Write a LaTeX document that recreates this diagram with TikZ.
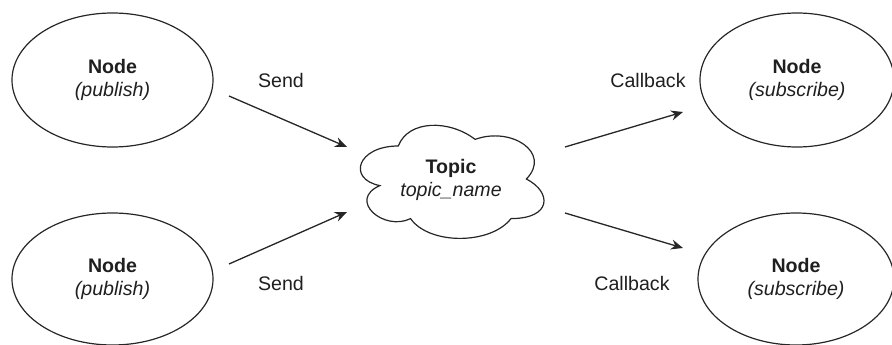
\documentclass[tikz,border=0pt]{standalone}
\usepackage{fontspec}
\setmainfont{Liberation Sans}
\usetikzlibrary{shapes.geometric,arrows.meta}

\tikzset{
  label text/.style={font=\fontsize{19.6}{23.5}\selectfont, text=black!88, align=center, inner sep=0pt},
  rosnode/.style={ellipse, draw=black!85, line width=1.2pt, inner sep=0pt, label text},
  flow/.style={draw=black!85, line width=1.3pt, -{Stealth[length=12pt, width=10pt]}},
}

\begin{document}
\begin{tikzpicture}[x=1pt, y=-1pt]
  \useasboundingbox (0,0) rectangle (892,345);

  % publishers and subscribers
  \node[rosnode, minimum width=201pt, minimum height=134pt] (pub1) at (112.5,80)
    {\textbf{Node}\\\textit{(publish)}};
  \node[rosnode, minimum width=201pt, minimum height=132pt] (pub2) at (112.5,279)
    {\textbf{Node}\\\textit{(publish)}};
  \node[rosnode, minimum width=194pt, minimum height=134pt] (sub1) at (797,80)
    {\textbf{Node}\\\textit{(subscribe)}};
  \node[rosnode, minimum width=196pt, minimum height=132pt] (sub2) at (796,279)
    {\textbf{Node}\\\textit{(subscribe)}};

  % topic cloud
  \draw[draw=black!85, line width=1.2pt]
    (398.25,146)
    .. controls (357.25,146) and (347,179) .. (379.8,185.6)
    .. controls (347,200.12) and (383.9,231.8) .. (410.55,218.6)
    .. controls (429,245) and (490.5,245) .. (511,218.6)
    .. controls (552,218.6) and (552,192.2) .. (526.375,179)
    .. controls (552,152.6) and (511,126.2) .. (475.125,139.4)
    .. controls (449.5,119.6) and (408.5,119.6) .. (398.25,146)
    -- cycle;
  \node[label text] (topic) at (451,180) {\textbf{Topic}\\\textit{topic\_name}};

  % connector end points
  \coordinate (s1a) at (229,96);
  \coordinate (s1b) at (347,147);
  \coordinate (s2a) at (229,264);
  \coordinate (s2b) at (347,212);
  \coordinate (c1a) at (565,147);
  \coordinate (c1b) at (683,112);
  \coordinate (c2a) at (565,213);
  \coordinate (c2b) at (683,248);

  \draw[flow] (s1a) -- (s1b);
  \draw[flow] (s2a) -- (s2b);
  \draw[flow] (c1a) -- (c1b);
  \draw[flow] (c2a) -- (c2b);

  % connector labels
  \node[label text] (send1) at (281,80) {Send};
  \node[label text] (send2) at (281,283) {Send};
  \node[label text] (cb1) at (648,80) {Callback};
  \node[label text] (cb2) at (632,283) {Callback};
\end{tikzpicture}
\end{document}
